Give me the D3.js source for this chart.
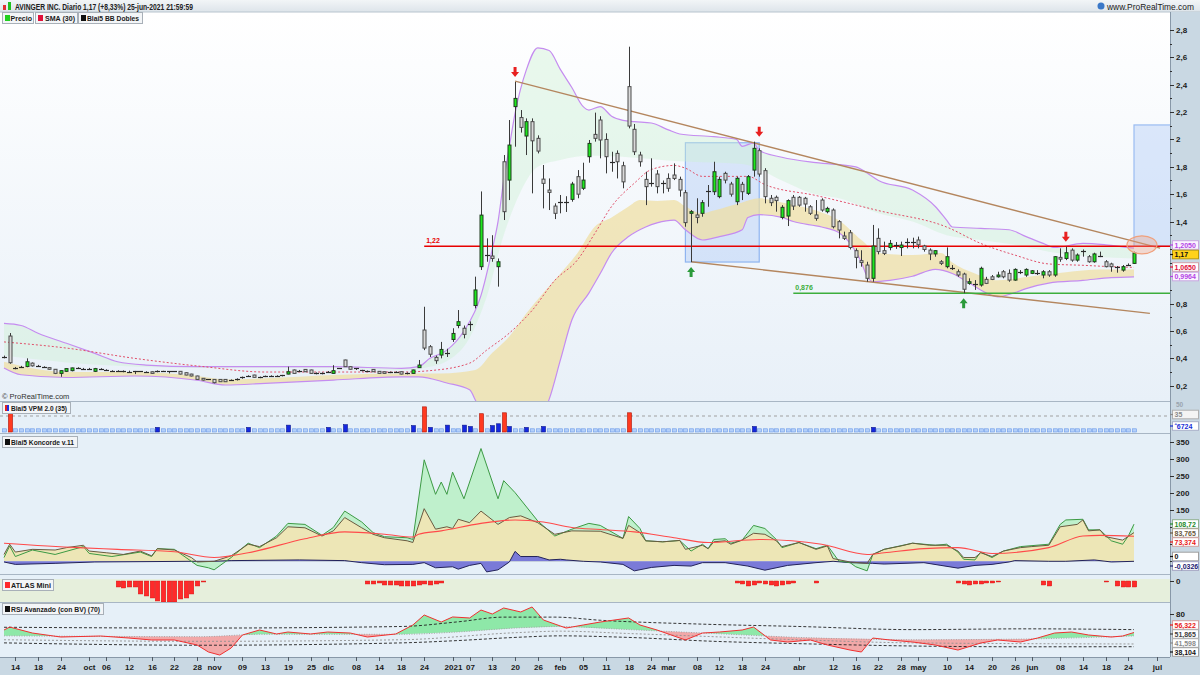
<!DOCTYPE html>
<html><head><meta charset="utf-8">
<script src="https://cdn.jsdelivr.net/npm/d3@7"></script>
<style>body{margin:0;background:#fff;}svg{display:block;font-family:"Liberation Sans",Arial,sans-serif;}</style>
</head><body><svg id="c" width="1200" height="675"></svg>
<script>
// ---------------- DATA ----------------
const holidays = ["2020-11-26","2020-12-25","2021-01-01","2021-01-18","2021-02-15","2021-04-02","2021-05-31"];
const firstDay = "2020-09-10", lastAxisDay = "2021-07-02";
const tickDates = ["2020-09-14","2020-09-18","2020-09-24","2020-10-01","2020-10-06","2020-10-12","2020-10-16","2020-10-22","2020-10-28","2020-11-02","2020-11-09","2020-11-13","2020-11-19","2020-11-25","2020-12-01","2020-12-08","2020-12-14","2020-12-18","2020-12-24","2021-01-04","2021-01-07","2021-01-13","2021-01-20","2021-01-26","2021-02-01","2021-02-05","2021-02-11","2021-02-18","2021-02-24","2021-03-01","2021-03-08","2021-03-12","2021-03-18","2021-03-24","2021-04-01","2021-04-12","2021-04-16","2021-04-22","2021-04-28","2021-05-03","2021-05-10","2021-05-14","2021-05-20","2021-05-26","2021-06-01","2021-06-08","2021-06-14","2021-06-18","2021-06-24","2021-07-01"];
const tickLabels = ["14","18","24","oct","06","12","16","22","28","nov","09","13","19","25","dic","08","14","18","24","2021","07","13","20","26","feb","05","11","18","24","mar","08","12","18","24","abr","12","16","22","28","may","10","14","20","26","jun","08","14","18","24","jul"];
const priceTicks = [0.2,0.4,0.6,0.8,1.4,1.6,1.8,2.0,2.2,2.4,2.6,2.8];
const priceMinor = [0.3,0.5,0.7,0.9,1.0,1.1,1.2,1.3,1.5,1.7,1.9,2.1,2.3,2.5,2.7];
const koncTicks = [350,300,250,200,150];

// daily candles [open, high, low, close]
const ohlc = [
[0.405,0.42,0.40,0.415],[0.563,0.585,0.36,0.368],[0.335,0.337,0.32,0.33],[0.335,0.345,0.33,0.342],[0.34,0.40,0.335,0.375],
[0.365,0.37,0.34,0.345],[0.347,0.352,0.34,0.345],[0.338,0.342,0.33,0.335],[0.332,0.335,0.318,0.32],[0.32,0.322,0.285,0.29],
[0.29,0.312,0.265,0.31],[0.305,0.328,0.30,0.325],[0.31,0.332,0.305,0.33],[0.33,0.335,0.325,0.328],[0.325,0.33,0.318,0.323],
[0.325,0.33,0.318,0.323],[0.305,0.33,0.30,0.325],[0.323,0.328,0.315,0.322],[0.315,0.32,0.31,0.314],[0.31,0.313,0.306,0.309],
[0.31,0.313,0.306,0.309],[0.31,0.312,0.298,0.30],[0.307,0.31,0.298,0.30],[0.307,0.308,0.285,0.306],[0.305,0.307,0.302,0.305],
[0.302,0.305,0.298,0.302],[0.302,0.304,0.288,0.29],[0.31,0.312,0.298,0.309],[0.307,0.309,0.303,0.307],[0.305,0.307,0.29,0.304],
[0.305,0.307,0.30,0.304],[0.305,0.307,0.283,0.285],[0.295,0.297,0.276,0.278],[0.285,0.287,0.268,0.271],[0.271,0.273,0.244,0.246],
[0.254,0.256,0.238,0.241],[0.246,0.248,0.243,0.246],[0.246,0.248,0.217,0.222],[0.246,0.248,0.227,0.229],[0.246,0.248,0.227,0.229],
[0.241,0.246,0.236,0.241],[0.241,0.254,0.238,0.251],[0.266,0.267,0.251,0.265],[0.271,0.276,0.266,0.271],[0.278,0.28,0.259,0.261],
[0.266,0.267,0.255,0.265],[0.266,0.274,0.263,0.271],[0.271,0.276,0.266,0.271],[0.271,0.276,0.266,0.271],[0.278,0.279,0.268,0.277],
[0.285,0.339,0.283,0.302],[0.315,0.318,0.288,0.29],[0.31,0.315,0.305,0.31],[0.319,0.322,0.30,0.302],[0.315,0.317,0.288,0.29],
[0.285,0.297,0.283,0.295],[0.285,0.297,0.283,0.295],[0.302,0.307,0.297,0.302],[0.29,0.35,0.288,0.31],[0.327,0.329,0.325,0.327],
[0.388,0.39,0.337,0.339],[0.339,0.341,0.318,0.32],[0.327,0.328,0.315,0.326],[0.315,0.316,0.305,0.314],[0.31,0.311,0.30,0.309],
[0.319,0.321,0.30,0.302],[0.305,0.307,0.288,0.29],[0.302,0.304,0.288,0.29],[0.302,0.303,0.292,0.301],[0.30,0.305,0.295,0.30],
[0.302,0.304,0.283,0.285],[0.285,0.297,0.283,0.295],[0.29,0.317,0.288,0.315],[0.332,0.388,0.33,0.351],[0.607,0.777,0.46,0.475],
[0.485,0.497,0.41,0.43],[0.407,0.42,0.36,0.383],[0.424,0.52,0.40,0.465],[0.44,0.47,0.41,0.442],[0.538,0.62,0.52,0.582],
[0.64,0.753,0.62,0.668],[0.62,0.64,0.546,0.575],[0.65,0.67,0.60,0.648],[0.786,0.997,0.765,0.90],[1.07,1.62,1.046,1.447],
[1.155,1.277,1.106,1.153],[1.148,1.30,1.106,1.13],[1.07,1.13,0.924,1.106],[1.837,1.886,1.411,1.472],[1.703,2.142,1.557,1.959],
[2.24,2.42,1.947,2.30],[2.16,2.215,2.05,2.088],[2.025,2.154,1.886,2.13],[2.13,2.154,1.606,1.99],[2.008,2.03,1.898,1.915],
[1.71,1.813,1.496,1.679],[1.63,1.715,1.484,1.613],[1.513,1.533,1.418,1.46],[1.542,1.594,1.46,1.538],[1.542,1.585,1.47,1.538],
[1.562,1.69,1.545,1.674],[1.728,1.776,1.57,1.60],[1.643,1.83,1.63,1.703],[1.874,1.996,1.83,1.971],[2.037,2.196,1.984,2.008],
[2.142,2.17,1.862,1.996],[2.0,2.045,1.752,1.874],[1.84,1.91,1.764,1.835],[1.898,1.92,1.715,1.837],[1.808,1.837,1.643,1.69],
[2.386,2.678,2.081,2.098],[2.074,2.113,1.886,1.91],[1.886,1.91,1.801,1.837],[1.708,1.764,1.52,1.655],[1.68,1.862,1.655,1.678],
[1.747,1.776,1.606,1.655],[1.68,1.70,1.606,1.678],[1.715,1.752,1.618,1.643],[1.74,1.825,1.703,1.715],[1.708,1.728,1.582,1.63],
[1.611,1.63,1.362,1.392],[1.46,1.484,1.104,1.472],[1.448,1.57,1.387,1.43],[1.46,1.557,1.435,1.538],[1.625,1.667,1.508,1.621],
[1.618,1.837,1.594,1.764],[1.582,1.728,1.57,1.708],[1.752,1.764,1.679,1.703],[1.674,1.69,1.582,1.60],[1.545,1.728,1.52,1.716],
[1.672,1.69,1.557,1.618],[1.606,1.74,1.594,1.728],[1.776,1.984,1.728,1.935],[1.918,1.935,1.728,1.747],[1.772,1.79,1.533,1.582],
[1.57,1.594,1.513,1.538],[1.577,1.59,1.472,1.553],[1.43,1.52,1.416,1.504],[1.44,1.562,1.367,1.553],[1.577,1.594,1.484,1.513],
[1.577,1.586,1.508,1.52],[1.57,1.58,1.472,1.528],[1.508,1.52,1.448,1.46],[1.448,1.557,1.406,1.423],[1.557,1.57,1.472,1.484],
[1.472,1.508,1.46,1.496],[1.484,1.496,1.35,1.362],[1.399,1.41,1.277,1.338],[1.294,1.326,1.265,1.277],[1.318,1.338,1.196,1.21],
[1.187,1.204,1.058,1.138],[1.114,1.19,1.07,1.10],[1.082,1.106,0.96,0.985],[0.985,1.375,0.96,1.221],[1.277,1.35,1.16,1.18],
[1.187,1.253,1.155,1.167],[1.21,1.265,1.19,1.24],[1.23,1.25,1.20,1.22],[1.21,1.253,1.148,1.228],[1.255,1.277,1.204,1.252],
[1.255,1.282,1.204,1.252],[1.265,1.29,1.204,1.23],[1.221,1.23,1.18,1.196],[1.191,1.204,1.118,1.163],[1.163,1.19,1.143,1.187],
[1.106,1.118,1.082,1.094],[1.07,1.211,1.058,1.143],[1.06,1.082,1.046,1.058],[1.033,1.05,0.996,1.009],[1.016,1.026,0.876,0.905],
[0.948,0.985,0.938,0.96],[0.945,0.972,0.90,0.943],[0.936,1.07,0.924,1.058],[0.977,0.996,0.943,0.948],[0.996,1.009,0.972,0.977],
[0.996,1.033,0.99,1.009],[1.033,1.045,0.985,0.996],[1.021,1.05,0.96,0.972],[0.972,1.058,0.967,1.05],[1.035,1.045,1.016,1.031],
[1.009,1.058,0.996,1.05],[1.021,1.045,1.016,1.04],[1.027,1.045,1.009,1.025],[1.009,1.045,0.985,1.033],[1.033,1.045,0.996,1.009],
[1.009,1.148,0.996,1.143],[1.138,1.204,1.106,1.125],[1.13,1.216,1.118,1.172],[1.191,1.204,1.106,1.118],[1.118,1.167,1.106,1.155],
[1.187,1.196,1.143,1.18],[1.143,1.155,1.099,1.106],[1.106,1.172,1.099,1.163],[1.15,1.18,1.14,1.148],[1.106,1.118,1.065,1.07],
[1.09,1.099,1.033,1.07],[1.066,1.075,1.026,1.064],[1.045,1.082,1.033,1.07],[1.086,1.094,1.075,1.085],[1.094,1.18,1.09,1.17]
];

// Bollinger double bands and SMA(30), [bar, value]
const bbUpper = [[0,.655],[3,.64],[6,.583],[11,.51],[16,.436],[20,.375],[25,.351],[34,.339],[58,.339],[70,.327],[73,.339],[75,.40],[78,.46],[81,.60],[84,.86],[86,1.2],[87,1.4],[88,1.7],[89,1.95],[90,2.19],[92,2.51],[94,2.67],[96,2.65],[98,2.51],[100,2.38],[102,2.24],[103,2.215],[105,2.24],[107,2.17],[109,2.14],[111,2.13],[114,2.12],[117,2.07],[119,2.04],[125,2.02],[129,2.0],[130,1.95],[132,1.974],[133,1.92],[137,1.87],[143,1.83],[150,1.80],[152,1.755],[154,1.70],[160,1.63],[164,1.51],[166,1.41],[167,1.36],[172,1.35],[177,1.34],[180,1.29],[183,1.24],[185,1.21],[190,1.24],[194,1.23],[199,1.205]];
const bbInnerUpper = [[0,.42],[11,.37],[20,.345],[34,.33],[58,.33],[70,.315],[74,.33],[78,.38],[82,.55],[85,.85],[88,1.3],[91,1.62],[94,1.80],[98,1.85],[103,1.88],[110,1.87],[119,1.84],[130,1.82],[137,1.70],[142,1.61],[148,1.56],[154,1.46],[160,1.40],[166,1.30],[172,1.265],[178,1.23],[184,1.18],[190,1.15],[199,1.13]];
const bbInnerLower = [[0,.375],[5,.327],[11,.30],[23,.30],[34,.27],[39,.246],[46,.254],[58,.278],[70,.29],[77,.29],[83,.315],[86,.44],[89,.56],[92,.73],[95,.88],[98,1.02],[101,1.17],[104,1.36],[107,1.43],[110,1.51],[112,1.557],[115,1.55],[118,1.557],[120,1.51],[123,1.46],[125,1.48],[130,1.54],[133,1.57],[137,1.54],[143,1.48],[147,1.41],[151,1.265],[154,1.17],[160,1.155],[165,1.17],[167,1.10],[171,1.02],[175,.97],[181,1.0],[187,1.03],[193,1.05],[199,1.05]];
const bbLower = [[0,.33],[3,.28],[11,.26],[23,.271],[34,.24],[39,.205],[46,.217],[58,.241],[70,.265],[73,.265],[78,.22],[82,.17],[83,.095],[85,-.1],[89,-.4],[93,-.3],[95,0],[96,.1],[98,.39],[100,.68],[103,.877],[105,1.02],[107,1.17],[110,1.29],[113,1.36],[115,1.39],[118,1.41],[120,1.34],[123,1.265],[126,1.29],[130,1.34],[131,1.43],[133,1.45],[137,1.43],[139,1.40],[144,1.36],[147,1.32],[151,1.10],[152,1.00],[153,.96],[156,.97],[160,1.00],[164,1.05],[167,1.02],[170,.95],[172,.90],[175,.85],[178,.88],[180,.91],[184,.95],[190,.97],[195,.99],[199,.996]];
const sma30 = [[0,.52],[11,.475],[23,.40],[35,.34],[46,.30],[58,.30],[70,.30],[75,.31],[82,.365],[85,.46],[89,.585],[93,.75],[97,.97],[101,1.12],[104,1.31],[107,1.51],[111,1.68],[114,1.78],[118,1.81],[120,1.79],[123,1.73],[131,1.73],[134,1.67],[143,1.59],[154,1.48],[166,1.36],[172,1.24],[178,1.155],[184,1.09],[190,1.08],[195,1.07],[199,1.065]];

// drawings
const trendUpper = [[90,2.427],[203.6,1.206]];
const trendLower = [[121,1.106],[201.8,0.729]];
const levels = [{from:74,value:1.22,label:"1,22",color:"#e80000"},{from:139,value:0.876,label:"0,876",color:"#3cae3c"}];
const boxA = {from:120,to:133,low:1.104,high:1.976};
const boxB = {from:199,to:206.2,low:1.22,high:2.106};
const ellipse = {bar:200.4,value:1.23};
const redArrows = [[90,2.42],[133,1.984],[187,1.216]];
const greenArrows = [[121,1.104],[169,0.876]];

// Blai5 VPM 2.0 (35)
const vpm = [
7,44,7,7,7,7,7,7,7,7,7,7,7,7,7,7,7,7,7,7,
7,7,7,7,7,7,7,10,7,7,7,7,7,7,7,7,7,7,7,7,
7,7,7,10,7,7,7,7,7,7,15,7,7,7,7,7,7,10,7,7,
16,7,7,7,7,7,7,7,7,7,7,7,14,7,55,10,7,7,15,7,
7,15,12,7,40,7,14,18,42,12,7,7,10,7,7,12,7,7,7,7,
7,7,7,7,7,7,7,7,7,7,42,7,7,7,7,7,7,7,7,7,
7,7,7,7,7,7,7,7,7,7,7,7,12,7,7,7,7,7,7,7,
7,7,7,7,7,7,7,7,7,7,7,7,7,10,7,7,7,7,7,7,
7,7,7,7,7,7,7,7,7,7,7,7,7,7,7,7,7,7,7,7,
7,7,7,7,7,7,7,7,7,7,7,7,7,7,7,7,7,7,7,7];

// Koncorde
const koncBrown = [[0,20],[1,50],[2,27],[5,35],[9,33],[11,40],[14,47],[15,30],[18,25],[21,20],[24,30],[26,16],[27,37],[30,33],[33,11],[34,-2],[37,0],[40,16],[43,50],[45,43],[48,69],[50,101],[53,98],[56,74],[58,89],[60,128],[63,98],[65,79],[67,69],[71,60],[72,55],[74,154],[76,94],[78,101],[79,96],[80,123],[82,113],[84,147],[87,108],[89,128],[91,133],[94,113],[97,79],[100,89],[105,88],[109,67],[110,105],[112,84],[113,60],[116,57],[119,61],[120,35],[123,47],[124,37],[125,57],[127,60],[128,50],[130,62],[132,82],[134,79],[136,60],[137,43],[140,55],[143,35],[145,45],[146,8],[149,-2],[152,-6],[153,20],[155,35],[158,45],[160,53],[163,47],[166,47],[168,30],[169,11],[171,11],[172,25],[174,14],[176,30],[179,40],[181,43],[184,47],[186,101],[189,108],[190,121],[191,89],[193,92],[194,72],[197,62],[199,84]];
const koncGreen = [[0,11],[1,45],[2,14],[5,33],[9,20],[14,43],[15,23],[19,14],[24,27],[26,14],[27,37],[30,35],[34,-12],[36,-19],[37,-25],[40,11],[43,53],[45,40],[48,74],[50,111],[53,108],[56,76],[58,99],[60,147],[63,115],[65,84],[67,72],[71,69],[72,64],[74,297],[76,196],[77,232],[78,196],[79,261],[81,183],[84,330],[87,183],[88,236],[90,201],[94,118],[97,74],[100,94],[103,111],[105,105],[109,67],[110,131],[112,96],[113,60],[116,57],[119,61],[121,30],[123,50],[124,37],[125,64],[127,66],[128,53],[130,62],[132,105],[134,96],[136,64],[137,40],[140,55],[143,37],[145,47],[147,1],[149,-4],[150,-16],[152,-28],[153,20],[155,35],[160,53],[164,47],[166,50],[168,27],[169,6],[171,4],[172,27],[174,11],[176,30],[179,43],[184,50],[186,108],[187,121],[190,123],[191,92],[193,92],[195,60],[197,50],[198,74],[199,108.7]];
const koncRed = [[0,53],[13,40],[20,35],[30,28],[37,11],[43,25],[53,66],[60,86],[67,79],[72,71],[73,79],[77,89],[84,111],[90,121],[95,115],[100,99],[105,93],[111,86],[118,69],[124,55],[133,64],[144,50],[152,20],[155,25],[162,37],[168,40],[174,23],[184,40],[190,74],[193,76],[199,73.4]];
const koncBlue = [[0,-2],[2,-9],[9,-6],[16,-2],[33,0],[37,0],[40,2],[52,4],[60,2],[63,-4],[67,-10],[72,-9],[74,-4],[76,-19],[79,-16],[80,-23],[82,-12],[84,-6],[85,-31],[87,-25],[89,-2],[90,29],[91,14],[94,14],[96,4],[98,6],[99,4],[102,0],[105,-2],[109,-9],[111,-28],[114,-18],[118,-12],[121,-14],[123,-4],[127,-4],[131,-14],[134,-26],[138,-12],[143,-4],[146,0],[149,-4],[153,-6],[155,-8],[162,-4],[165,-12],[168,-20],[171,-12],[174,-9],[177,-2],[178,2],[184,0],[187,0],[192,4],[195,-2],[199,0]];

// ATLAS Mini
const atlasBars = [20,21,22,23,24,25,26,27,28,29,30,31,32,33,34,35,64,65,66,67,68,69,70,71,72,73,74,75,76,77,129,130,131,132,133,134,135,136,137,138,139,143,168,169,170,171,172,173,174,175,183,184,194,196,197,198,199];
const atlasVals = [-6,-7,-6,-6,-13,-15,-17,-20,-21,-21,-21,-18,-17,-13,-5,-1,-3,-3,-2,-4,-4,-4,-5,-5,-5,-4,-3,-4,-3,-2,-2,-3,-5,-4,-2,-3,-4,-5,-4,-3,-2,-2,-2,-3,-4,-3,-3,-2,-2,-1,-4,-5,-1,-5,-6,-6,-6];

// RSI Avanzado
const rsiLine = [[0,59.5],[1,63.3],[5,55.6],[10,50.5],[17,51.8],[22,49.2],[26,46.7],[30,46.7],[34,40.3],[36,31.3],[38,27.4],[40,36.4],[42,53.1],[45,59.5],[48,54.4],[50,56.9],[54,54.4],[57,56.9],[61,55.6],[64,50.5],[69,54.4],[72,65.9],[74,78.7],[77,69.7],[79,76.2],[82,74.9],[84,85.1],[86,80],[88,87.7],[91,82.6],[93,89],[95,72.3],[99,62],[102,65.9],[105,69.7],[110,74.9],[112,65.9],[115,59.5],[120,46.7],[123,55.6],[126,56.9],[130,59.5],[132,63.3],[135,46.7],[138,44.1],[142,46.7],[145,40.3],[149,33.8],[151,31.3],[153,49.2],[156,46.7],[160,44.1],[164,40.3],[168,33.8],[172,42.8],[175,46.7],[179,44.1],[182,49.2],[185,55.6],[188,56.9],[191,53.1],[195,50.5],[197,51.8],[199,56.3]];
const rsiUpper = [[0,63],[35,62],[70,64],[80,70],[88,76],[97,76],[105,72],[123,67],[140,64],[160,60],[180,61],[199,60]];
const rsiMid = [[0,52],[35,51],[45,54],[70,54],[80,57],[90,62],[98,64],[110,60],[125,55],[140,50],[160,47],[180,48],[199,51.9]];
const rsiLow2 = [[0,47],[35,45],[70,47],[90,56],[98,58],[110,55],[140,47],[160,43],[199,41.6]];
const rsiLower = [[0,43],[35,40],[70,43],[80,46],[90,50],[98,52],[110,50],[125,45],[140,42],[160,39],[180,38],[199,38.1]];

// ---------------- CHART ----------------
const svg = d3.select("#c");
const defs = svg.append("defs");
const AX = 1170;
const F = '"Liberation Sans",Arial,sans-serif';

const days = [];
for (let d = new Date(firstDay+"T00:00:00Z"); d <= new Date(lastAxisDay+"T00:00:00Z"); d.setUTCDate(d.getUTCDate()+1)) {
  const s = d.toISOString().slice(0,10), wd = d.getUTCDay();
  if (wd===0 || wd===6 || holidays.includes(s)) continue;
  days.push(s);
}
const dayIndex = new Map(days.map((s,i)=>[s,i]));
const x = d3.scaleLinear().domain([0, ohlc.length-1]).range([4, 1134]);

const P = {top:12, bot:401};
const yP = d3.scaleLinear().domain([0.2, 2.8]).range([385.7, 30]);
const yV = d3.scaleLinear().domain([0, 35]).range([432, 416]);
const yK = d3.scaleLinear().domain([0, 350]).range([561.3, 441.7]);
const yA = d3.scaleLinear().domain([0, -22]).range([581, 603]);
const yR = d3.scaleLinear().domain([80, 38.104]).range([614, 646.7]);

let cid = 0;
function clip(d){ const id="cl"+(cid++); defs.append("clipPath").attr("id",id).append(typeof d==="string"?"path":"rect").call(s=>{ if(typeof d==="string") s.attr("d",d); else s.attr("x",d[0]).attr("y",d[1]).attr("width",d[2]).attr("height",d[3]); }); return `url(#${id})`; }
const lineG = (ys, c) => d3.line().x(d=>x(d[0])).y(d=>ys(d[1])).curve(c||d3.curveMonotoneX);
const areaG = (ys, edge, c) => d3.area().x(d=>x(d[0])).y0(edge).y1(d=>ys(d[1])).curve(c||d3.curveMonotoneX);
function fillBetween(g, upper, lower, ys, yTop, yBot, color, c){
  const cp = clip(areaG(ys, yTop, c)(lower));
  g.append("path").attr("d", areaG(ys, yBot, c)(upper)).attr("fill", color).attr("clip-path", cp);
}

// ---- backgrounds ----
const grad = defs.append("linearGradient").attr("id","gMain").attr("x1",0).attr("y1",0).attr("x2",0).attr("y2",1);
grad.append("stop").attr("offset","0%").attr("stop-color","#ffffff");
grad.append("stop").attr("offset","100%").attr("stop-color","#e8f0f8");
svg.append("rect").attr("x",0).attr("y",P.top).attr("width",AX).attr("height",P.bot-P.top).attr("fill","url(#gMain)");
svg.append("rect").attr("x",0).attr("y",402).attr("width",AX).attr("height",31).attr("fill","#e6f0f8");
svg.append("rect").attr("x",0).attr("y",434).attr("width",AX).attr("height",140).attr("fill","#e6f0f8");
svg.append("rect").attr("x",0).attr("y",575).attr("width",AX).attr("height",4).attr("fill","#e6f0f8");
svg.append("rect").attr("x",0).attr("y",579).attr("width",AX).attr("height",23).attr("fill","#e6efdc");
svg.append("rect").attr("x",0).attr("y",603).attr("width",AX).attr("height",54).attr("fill","#e6f0f8");

// header
const hg = defs.append("linearGradient").attr("id","gHead").attr("x1",0).attr("y1",0).attr("x2",0).attr("y2",1);
hg.append("stop").attr("offset","0%").attr("stop-color","#f2f5f7");
hg.append("stop").attr("offset","100%").attr("stop-color","#dde4ea");
svg.append("rect").attr("x",0).attr("y",0).attr("width",1200).attr("height",12).attr("fill","url(#gHead)");
svg.append("line").attr("x1",0).attr("x2",1200).attr("y1",12).attr("y2",12).attr("stroke","#b8c4ce");
svg.append("rect").attr("x",3).attr("y",5).attr("width",3).attr("height",5).attr("fill","#e03030");
svg.append("rect").attr("x",8).attr("y",2).attr("width",3).attr("height",8).attr("fill","#20c020");
svg.append("text").attr("x",15).attr("y",9.5).attr("font-family",F).attr("font-size",8.5).attr("font-weight","bold").attr("fill","#202020")
  .attr("textLength",178).attr("lengthAdjust","spacingAndGlyphs").text("AVINGER INC. Diario 1,17 (+8,33%) 25-jun-2021 21:59:59");
svg.append("circle").attr("cx",1101).attr("cy",6).attr("r",3.5).attr("fill","#3a78c8");
svg.append("text").attr("x",1107).attr("y",9.5).attr("font-family",F).attr("font-size",8.5).attr("fill","#202020")
  .attr("textLength",87).attr("lengthAdjust","spacingAndGlyphs").text("www.ProRealTime.com");

function labelBox(x0, y0, w, h, text, iconColor, tx, tw){
  const g = svg.append("g");
  g.append("rect").attr("x",x0+.5).attr("y",y0+.5).attr("width",w).attr("height",h).attr("fill","#f3f5f7").attr("stroke","#a8b0b8");
  if (Array.isArray(iconColor)) {
    g.append("rect").attr("x",x0+3).attr("y",y0+3).attr("width",2).attr("height",h-5).attr("fill",iconColor[0]);
    g.append("rect").attr("x",x0+5).attr("y",y0+3).attr("width",2).attr("height",h-5).attr("fill",iconColor[1]);
  } else g.append("rect").attr("x",x0+3).attr("y",y0+3).attr("width",5).attr("height",h-5).attr("fill",iconColor);
  g.append("text").attr("x",tx).attr("y",y0+h-2.2).attr("font-family",F).attr("font-size",8).attr("font-weight","bold").attr("fill","#1a1a1a")
    .attr("textLength",tw).attr("lengthAdjust","spacingAndGlyphs").text(text);
}

// ---- MAIN PANEL ----
const gm = svg.append("g").attr("clip-path", clip([0,P.top,AX,P.bot-P.top]));
gm.append("rect").attr("x",x(boxA.from)).attr("y",yP(boxA.high)).attr("width",x(boxA.to)-x(boxA.from)).attr("height",yP(boxA.low)-yP(boxA.high))
  .attr("fill","rgba(110,160,240,0.22)").attr("stroke","#8fb4f0").attr("stroke-width",1.2);
gm.append("rect").attr("x",x(boxB.from)).attr("y",yP(boxB.high)).attr("width",x(boxB.to)-x(boxB.from)).attr("height",yP(boxB.low)-yP(boxB.high))
  .attr("fill","rgba(150,185,245,0.3)").attr("stroke","#9abcf2").attr("stroke-width",1.2);
fillBetween(gm, bbUpper, bbInnerUpper, yP, P.top, 420, "rgba(205,240,212,0.42)");
fillBetween(gm, bbInnerLower, bbLower, yP, P.top, 420, "rgba(240,222,160,0.7)");
gm.append("path").attr("d",lineG(yP)(bbUpper)).attr("fill","none").attr("stroke","#c58cf0").attr("stroke-width",1.2);
gm.append("path").attr("d",lineG(yP)(bbLower)).attr("fill","none").attr("stroke","#c58cf0").attr("stroke-width",1.2);
gm.append("path").attr("d",lineG(yP)(sma30)).attr("fill","none").attr("stroke","#e0506a").attr("stroke-width",1).attr("stroke-dasharray","2,2");
[trendUpper, trendLower].forEach(t => gm.append("line").attr("x1",x(t[0][0])).attr("y1",yP(t[0][1])).attr("x2",x(t[1][0])).attr("y2",yP(t[1][1]))
  .attr("stroke","#b4865e").attr("stroke-width",1.3));
levels.forEach(l => {
  gm.append("line").attr("x1",x(l.from)).attr("x2",AX).attr("y1",yP(l.value)).attr("y2",yP(l.value)).attr("stroke",l.color).attr("stroke-width",1.5);
  gm.append("text").attr("x",x(l.from)+2).attr("y",yP(l.value)-3).attr("font-family",F).attr("font-size",7).attr("font-weight","bold").attr("fill",l.color).text(l.label);
});
const cg = gm.append("g");
ohlc.forEach((d,i) => {
  const [o,h,l,c] = d, cx = Math.round(x(i)) + 0.5, up = c > o;
  cg.append("line").attr("x1",cx).attr("x2",cx).attr("y1",yP(h)).attr("y2",yP(l)).attr("stroke","#3a3a3a").attr("stroke-width",1);
  const t = yP(Math.max(o,c)), b = yP(Math.min(o,c));
  if (b - t < 1.5) {
    cg.append("line").attr("x1",cx-2.5).attr("x2",cx+2.5).attr("y1",Math.round((t+b)/2)+.5).attr("y2",Math.round((t+b)/2)+.5).attr("stroke","#2a2a2a").attr("stroke-width",1.2);
  } else {
    cg.append("rect").attr("x",cx-1.5).attr("y",t).attr("width",3).attr("height",b-t)
      .attr("fill", up ? "#1ee81e" : "#dadada").attr("stroke", up ? "#1f3a1f" : "#4a4a4a").attr("stroke-width",1);
  }
});
function arrow(bar, v, dir, color){
  const cx = x(bar), tip = dir>0 ? yP(v)+5 : yP(v)-5;
  const s = dir>0 ? 1 : -1;
  const pts = [[cx,tip],[cx+4,tip+s*5],[cx+1.5,tip+s*5],[cx+1.5,tip+s*10],[cx-1.5,tip+s*10],[cx-1.5,tip+s*5],[cx-4,tip+s*5]];
  gm.append("path").attr("d","M"+pts.map(p=>p.join(",")).join("L")+"Z").attr("fill",color);
}
redArrows.forEach(a => arrow(a[0], a[1], -1, "#e82020"));
greenArrows.forEach(a => arrow(a[0], a[1], 1, "#2a9a3a"));
gm.append("ellipse").attr("cx",x(ellipse.bar)).attr("cy",yP(ellipse.value)).attr("rx",15).attr("ry",9)
  .attr("fill","rgba(240,160,130,0.35)").attr("stroke","#f0a07c").attr("stroke-width",1.2);
svg.append("text").attr("x",2).attr("y",399).attr("font-family",F).attr("font-size",7.5).attr("fill","#303030").text("© ProRealTime.com");

// ---- VPM ----
const gv = svg.append("g").attr("clip-path", clip([0,402,AX,31]));
gv.append("line").attr("x1",0).attr("x2",AX).attr("y1",yV(35)).attr("y2",yV(35)).attr("stroke","#a0a0a0").attr("stroke-dasharray","3,3");
vpm.forEach((v,i) => {
  const cx = Math.round(x(i)) + 0.5;
  const col = v >= 35 ? ["#ff3a20","#b01000"] : v >= 10 ? ["#1428e0","#0a168a"] : ["#b4d0fa","#6a98e8"];
  gv.append("rect").attr("x",cx-2).attr("y",yV(v)).attr("width",4).attr("height",yV(0)-yV(v)).attr("fill",col[0]).attr("stroke",col[1]).attr("stroke-width",0.6);
});

// ---- KONCORDE ----
const gk = svg.append("g").attr("clip-path", clip([0,434,AX,140]));
const L = d3.curveLinear;
gk.append("path").attr("d",areaG(yK, yK(0), L)(koncGreen)).attr("fill","#bff0cc");
gk.append("path").attr("d",areaG(yK, yK(0), L)(koncBrown)).attr("fill","#ede6b6");
gk.append("path").attr("d",areaG(yK, yK(0), L)(koncBlue)).attr("fill","#7a7ad8");
gk.append("path").attr("d",lineG(yK, L)(koncBlue)).attr("fill","none").attr("stroke","#23235a").attr("stroke-width",1);
gk.append("path").attr("d",lineG(yK, L)(koncGreen)).attr("fill","none").attr("stroke","#3c9a44").attr("stroke-width",1);
gk.append("path").attr("d",lineG(yK, L)(koncBrown)).attr("fill","none").attr("stroke","#6a5a40").attr("stroke-width",1);
gk.append("path").attr("d",lineG(yK)(koncRed)).attr("fill","none").attr("stroke","#ff4a4a").attr("stroke-width",1.1);

// ---- ATLAS ----
const ga = svg.append("g");
atlasBars.forEach((b,i) => {
  const cx = Math.round(x(b)) + 0.5, v = atlasVals[i];
  ga.append("rect").attr("x",cx-2.3).attr("y",yA(0)).attr("width",4.6).attr("height",yA(v)-yA(0)).attr("fill","#ff2a2a").attr("stroke","#d01010").attr("stroke-width",0.4);
});

// ---- RSI ----
const gr = svg.append("g").attr("clip-path", clip([0,603,AX,54]));
fillBetween(gr, rsiLine, rsiMid, yR, 600, 660, "#8ee8a8", L);
fillBetween(gr, rsiMid, rsiLine, yR, 600, 660, "#f2a8a8", L);
gr.append("path").attr("d",lineG(yR)(rsiUpper)).attr("fill","none").attr("stroke","#202020").attr("stroke-width",0.9).attr("stroke-dasharray","3,2");
gr.append("path").attr("d",lineG(yR)(rsiLower)).attr("fill","none").attr("stroke","#202020").attr("stroke-width",0.9).attr("stroke-dasharray","3,2");
gr.append("path").attr("d",lineG(yR)(rsiLow2)).attr("fill","none").attr("stroke","#909090").attr("stroke-width",0.9).attr("stroke-dasharray","2,2");
gr.append("path").attr("d",lineG(yR)(rsiMid)).attr("fill","none").attr("stroke","#a0a0a0").attr("stroke-width",0.9).attr("stroke-dasharray","1,1.5");
gr.append("path").attr("d",lineG(yR, L)(rsiLine)).attr("fill","none").attr("stroke","#f03030").attr("stroke-width",1);

[401.5, 433.5, 574.5, 602.5].forEach(y => svg.append("line").attr("x1",0).attr("x2",AX).attr("y1",y).attr("y2",y).attr("stroke","#a8b6c4"));

// ---- AXES ----
svg.append("rect").attr("x",AX).attr("y",12).attr("width",30).attr("height",663).attr("fill","#c9d8e3");
svg.append("rect").attr("x",0).attr("y",657).attr("width",AX).attr("height",18).attr("fill","#c9d8e3");
svg.append("line").attr("x1",AX+.5).attr("x2",AX+.5).attr("y1",12).attr("y2",657).attr("stroke","#8898a8");
svg.append("line").attr("x1",0).attr("x2",AX).attr("y1",657.5).attr("y2",657.5).attr("stroke","#8898a8");
const fmt = v => String(+v.toFixed(4)).replace(".",",");
function rTick(y, text, minor){
  svg.append("line").attr("x1",AX).attr("x2",AX+(minor?2:4)).attr("y1",Math.round(y)+.5).attr("y2",Math.round(y)+.5).attr("stroke","#303030");
  if (text!==null) svg.append("text").attr("x",AX+6).attr("y",y+3).attr("font-family",F).attr("font-size",8).attr("font-weight","bold").attr("fill","#202020").text(text);
}
priceTicks.forEach(v => rTick(yP(v), fmt(v), false));
priceMinor.forEach(v => rTick(yP(v), null, true));
koncTicks.forEach(v => rTick(yK(v), String(v), false));
[100,50,0].forEach(v => rTick(yK(v), null, false));
rTick(yA(0), "0", false);
rTick(yR(80), "80", false);
svg.append("text").attr("x",AX+6).attr("y",406.5).attr("font-family",F).attr("font-size",6.5).attr("font-weight","bold").attr("fill","#9aa4ae").text("50");

function vBox(y, text, color, bg, border){
  svg.append("rect").attr("x",AX+2.5).attr("y",y-4.3).attr("width",26).attr("height",8.6).attr("fill",bg||"#ffffff").attr("stroke",border||"#a8b0b8");
  svg.append("line").attr("x1",AX).attr("x2",AX+3).attr("y1",y).attr("y2",y).attr("stroke",color).attr("stroke-width",1.2);
  svg.append("text").attr("x",AX+4.5).attr("y",y+2.6).attr("font-family",F).attr("font-size",7).attr("font-weight","bold").attr("fill",color).text(text);
}
vBox(245, "1,2050", "#b444e6", "#fbf4ff", "#c8a8e0");
vBox(254.5, "1,17", "#101010", "#ffd21a", "#b89a10");
vBox(267, "1,0650", "#e0103a", "#ffffff", "#d0a0a8");
vBox(276.5, "0,9964", "#b444e6", "#fbf4ff", "#c8a8e0");
vBox(414.5, "35", "#8a8a8a", "#f4f4f4", "#b0b0b0");
vBox(426, "ˆ6724", "#1830d8", "#ffffff", "#a8b0c8");
vBox(524, "108,72", "#1f8a2a", "#ffffff", "#90b090");
vBox(533, "83,765", "#6a5a40", "#ffffff", "#a8a090");
vBox(542, "73,374", "#e81818", "#ffffff", "#d0a0a0");
vBox(556.5, "0", "#101010", "#ffffff", "#a0a0a0");
vBox(566, "-0,0326", "#202070", "#ffffff", "#a0a0c0");
vBox(625, "56,322", "#e81818", "#ffffff", "#d0a0a0");
vBox(634, "51,865", "#404040", "#ffffff", "#a8a8a8");
vBox(643, "41,598", "#8a8a8a", "#ffffff", "#b0b0b0");
vBox(652, "38,104", "#101010", "#ffffff", "#a0a0a0");

tickDates.forEach((s,i) => {
  const idx = dayIndex.get(s), xx = Math.round(x(idx)) + .5;
  svg.append("line").attr("x1",xx).attr("x2",xx).attr("y1",657).attr("y2",661).attr("stroke","#505a64");
  svg.append("text").attr("x",xx).attr("y",670).attr("text-anchor","middle").attr("font-family",F).attr("font-size",8).attr("font-weight","bold").attr("fill","#1a1a1a").text(tickLabels[i]);
});

labelBox(2,12,31,11,"Precio","#20d020",10.5,21.5);
labelBox(35,12,42,11,"SMA (30)","#e0103a",45,30);
labelBox(78,12,64,11,"Blai5 BB Dobles","#101010",87,52);
labelBox(2,402,68,11,"Blai5 VPM 2.0 (35)",["#e02020","#2030e0"],11,56);
labelBox(2,436,75,11,"Blai5 Koncorde v.11","#101010",11,63);
labelBox(2,579,51,11,"ATLAS Mini","#ff2a2a",11,40);
labelBox(2,603,101,11,"RSI Avanzado (con BV) (70)","#101010",11,89);
</script></body></html>
